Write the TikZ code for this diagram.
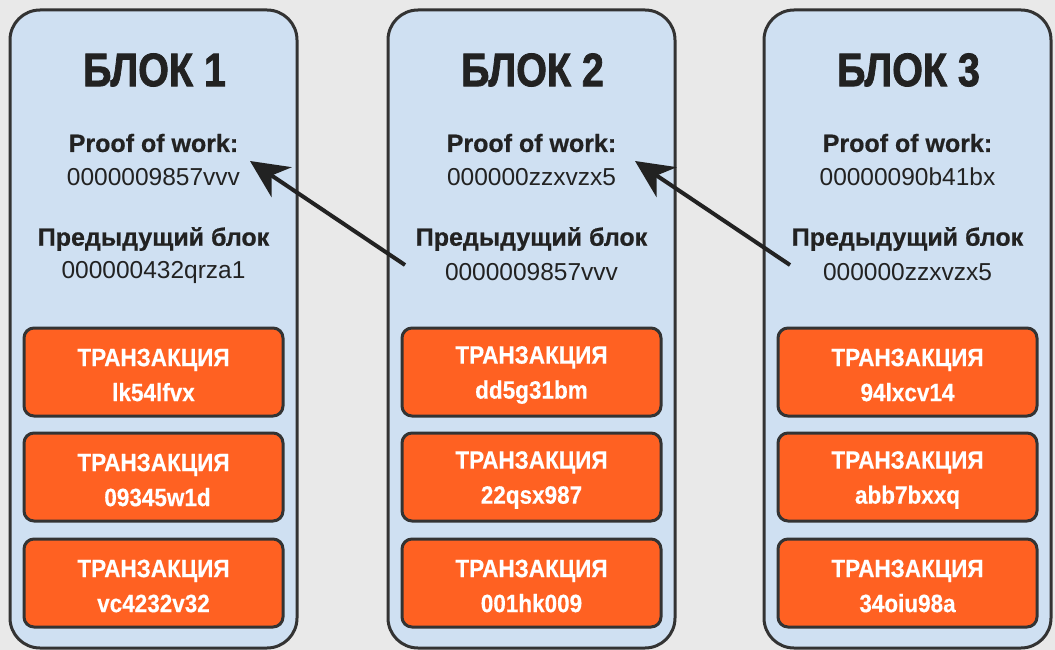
\documentclass[tikz,border=0pt]{standalone}
\usepackage{fontspec}
\setmainfont{Liberation Sans}
\newfontfamily\titlefont[FakeStretch=0.84, FakeBold=1.6]{Liberation Sans}
\newfontfamily\lblfont[FakeBold=0.6]{Liberation Sans}
\newfontfamily\txfont[FakeStretch=0.9, FakeBold=0.4]{Liberation Sans}
\usetikzlibrary{arrows.meta}
\definecolor{bg}{HTML}{E9E9E9}
\definecolor{blockfill}{HTML}{CFE0F2}
\definecolor{txfill}{HTML}{FF6122}
\definecolor{edge}{HTML}{333333}
\definecolor{ink}{HTML}{222222}
\tikzset{
  blockbox/.style={draw=edge, line width=3pt, fill=blockfill, rounded corners=30pt,
    minimum width=287pt, minimum height=638pt, inner sep=0pt},
  txbox/.style={draw=edge, line width=3pt, fill=txfill, rounded corners=10pt,
    minimum width=259pt, minimum height=88pt, inner sep=0pt},
  title/.style={text=ink, font=\titlefont\bfseries\fontsize{47}{50}\selectfont},
  lbl/.style={text=ink, font=\lblfont\bfseries\fontsize{25}{28}\selectfont},
  hash/.style={text=ink, font=\fontsize{24.5}{28}\selectfont},
  txt/.style={text=white, align=center, font=\txfont\bfseries\fontsize{25}{35}\selectfont},
  link/.style={draw=ink, line width=4pt, -{Stealth[length=38pt, width=36pt, inset=12pt]}}
}
\begin{document}
\begin{tikzpicture}[x=1pt, y=-1pt]
\fill[bg] (0,0) rectangle (1055,650);
\useasboundingbox (0,0) rectangle (1055,650);

% Block 1
\node[blockbox] (b1) at (153.5,329) {};
\node[title] (t1) at (154.5,70) {БЛОК 1};
\node[lbl] (p1) at (153.5,143) {Proof of work:};
\node[hash] (h1) at (153.5,177) {0000009857vvv};
\node[lbl] (r1) at (153.5,239) {Предыдущий блок};
\node[hash] (q1) at (153.5,272) {000000432qrza1};
\node[txbox] (x11) at (153.5,372) {};
\node[txt] (y11) at (153.5,375) {ТРАНЗАКЦИЯ\\lk54lfvx};
\node[txbox] (x12) at (153.5,477) {};
\node[txt] (y12) at (153.5,480) {ТРАНЗАКЦИЯ\\\hspace*{8pt}09345w1d};
\node[txbox] (x13) at (153.5,583) {};
\node[txt] (y13) at (153.5,586) {ТРАНЗАКЦИЯ\\vc4232v32};

% Block 2
\node[blockbox] (b2) at (531.5,329) {};
\node[title] (t2) at (532.5,70) {БЛОК 2};
\node[lbl] (p2) at (531.5,143) {Proof of work:};
\node[hash] (h2) at (531.5,177) {000000zzxvzx5};
\node[lbl] (r2) at (531.5,239) {Предыдущий блок};
\node[hash] (q2) at (531.5,272) {0000009857vvv};
\node[txbox] (x21) at (531.5,372) {};
\node[txt] (y21) at (531.5,375) {ТРАНЗАКЦИЯ\\dd5g31bm};
\node[txbox] (x22) at (531.5,477) {};
\node[txt] (y22) at (531.5,480) {ТРАНЗАКЦИЯ\\22qsx987};
\node[txbox] (x23) at (531.5,583) {};
\node[txt] (y23) at (531.5,586) {ТРАНЗАКЦИЯ\\001hk009};

% Block 3
\node[blockbox] (b3) at (907.5,329) {};
\node[title] (t3) at (908.5,70) {БЛОК 3};
\node[lbl] (p3) at (907.5,143) {Proof of work:};
\node[hash] (h3) at (907.5,177) {00000090b41bx};
\node[lbl] (r3) at (907.5,239) {Предыдущий блок};
\node[hash] (q3) at (907.5,272) {000000zzxvzx5};
\node[txbox] (x31) at (907.5,372) {};
\node[txt] (y31) at (907.5,375) {ТРАНЗАКЦИЯ\\94lxcv14};
\node[txbox] (x32) at (907.5,477) {};
\node[txt] (y32) at (907.5,480) {ТРАНЗАКЦИЯ\\abb7bxxq};
\node[txbox] (x33) at (907.5,583) {};
\node[txt] (y33) at (907.5,586) {ТРАНЗАКЦИЯ\\34oiu98a};

% Links
\coordinate (s2) at (405,265);
\coordinate (e1) at (250,161);
\coordinate (s3) at (790,265);
\coordinate (e2) at (635,161);
\draw[link] (s2) -- (e1);
\draw[link] (s3) -- (e2);
\end{tikzpicture}
\end{document}
